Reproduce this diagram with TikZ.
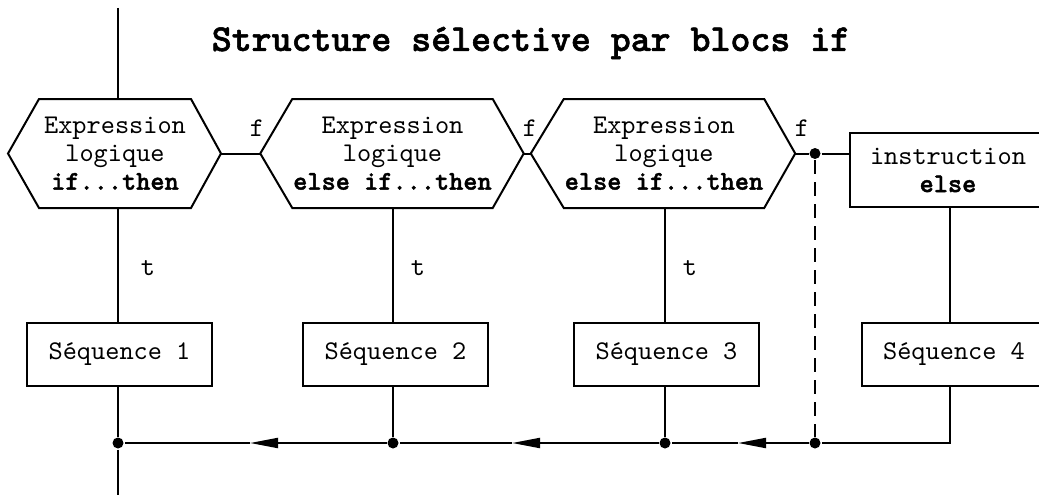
\documentclass[tikz,border=0pt]{standalone}
\usepackage{fontspec}
\setmonofont{lmmono10-regular}[Extension=.otf, BoldFont=lmmonolt10-bold, BoldFeatures={FakeBold=1.5}]
\usetikzlibrary{arrows.meta,calc}
\begin{document}
\begin{tikzpicture}[x=1pt,y=-1pt,
  line width=2pt,
  txt/.style={font=\fontsize{27}{28}\selectfont\ttfamily, inner sep=0pt, align=center},
  hexbox/.style={txt, minimum height=107pt},
  seqbox/.style={txt, draw, minimum width=185pt, minimum height=63pt},
  lbl/.style={font=\fontsize{27}{28}\selectfont\ttfamily, inner sep=0pt},
  dot/.style={circle, fill, inner sep=0pt, minimum size=11pt},
  arr/.style={-{Triangle[length=28pt,width=10pt]}},
]
\useasboundingbox (0,0) rectangle (1039,495);
\clip (0,0) rectangle (1039,495);

% title
\node[font=\fontsize{38}{40}\selectfont\ttfamily\bfseries, inner sep=0pt] (title) at (531,43) {Structure sélective par blocs if};

% columns
\coordinate (c1) at (118,0);
\coordinate (c2) at (393,0);
\coordinate (c3) at (665,0);
\coordinate (c4) at (950,0);
\coordinate (top) at (118,8);
\coordinate (bot) at (118,500);

% hexagons
\node[hexbox, minimum width=150pt] (h1) at (115,153.5) {Expression\\logique\\\textbf{if...then}};
\draw (h1.north west) -- (h1.north east) -- ($(h1.east)+(30,0)$) coordinate (h1r) -- (h1.south east) -- (h1.south west) -- ($(h1.west)+(-31,0)$) coordinate (h1l) -- cycle;

\node[hexbox, minimum width=185pt] (h2) at (392.5,153.5) {Expression\\logique\\\textbf{else if...then}};
\draw (h2.north west) -- (h2.north east) -- ($(h2.east)+(31,0)$) coordinate (h2r) -- (h2.south east) -- (h2.south west) -- ($(h2.west)+(-32,0)$) coordinate (h2l) -- cycle;

\node[hexbox, minimum width=188pt] (h3) at (664,153.5) {Expression\\logique\\\textbf{else if...then}};
\draw (h3.north west) -- (h3.north east) -- ($(h3.east)+(31,0)$) coordinate (h3r) -- (h3.south east) -- (h3.south west) -- ($(h3.west)+(-33,0)$) coordinate (h3l) -- cycle;

% else box
\node[txt, draw, minimum width=196pt, minimum height=74pt] (el) at (948,170) {instruction\\\textbf{else}};

% sequence boxes
\node[seqbox] (s1) at (119.5,354.5) {Séquence 1};
\node[seqbox] (s2) at (395.5,354.5) {Séquence 2};
\node[seqbox] (s3) at (666.5,354.5) {Séquence 3};
\node[seqbox] (s4) at (954,354.5) {Séquence 4};

% labels
\node[lbl] (f1) at (257,128) {f};
\node[lbl] (f2) at (530,128) {f};
\node[lbl] (f3) at (802,128) {f};
\node[lbl] (t1) at (148,268) {t};
\node[lbl] (t2) at (418,268) {t};
\node[lbl] (t3) at (690,268) {t};

% junctions
\node[dot] (d0) at (815,153.5) {};
\node[dot] (j1) at (118,443) {};
\node[dot] (j2) at (393,443) {};
\node[dot] (j3) at (665,443) {};
\node[dot] (j4) at (815,443) {};
\coordinate (a1) at (250,443);
\coordinate (a2) at (512,443);
\coordinate (a3) at (738,443);

% f connectors
\draw (h1r) -- (h2l);
\draw (h2r) -- (h3l);
\draw (h3r) -- (d0) -- (d0 -| el.west);
\draw[dashed, dash pattern=on 14pt off 8pt] (d0) -- (j4);

% vertical connectors
\draw (top) -- (top |- h1.north);
\draw (c1 |- h1.south) -- (c1 |- s1.north);
\draw (c1 |- s1.south) -- (j1) -- (bot);
\draw (c2 |- h2.south) -- (c2 |- s2.north);
\draw (c2 |- s2.south) -- (j2);
\draw (c3 |- h3.south) -- (c3 |- s3.north);
\draw (c3 |- s3.south) -- (j3);
\draw (c4 |- el.south) -- (c4 |- s4.north);
\draw (c4 |- s4.south) -- (c4 |- j4) -- (j4);

% return line with arrows
\draw[arr] (j4) -- (a3);
\draw (a3) -- (j3);
\draw[arr] (j3) -- (a2);
\draw (a2) -- (j2);
\draw[arr] (j2) -- (a1);
\draw (a1) -- (j1);
\end{tikzpicture}
\end{document}
